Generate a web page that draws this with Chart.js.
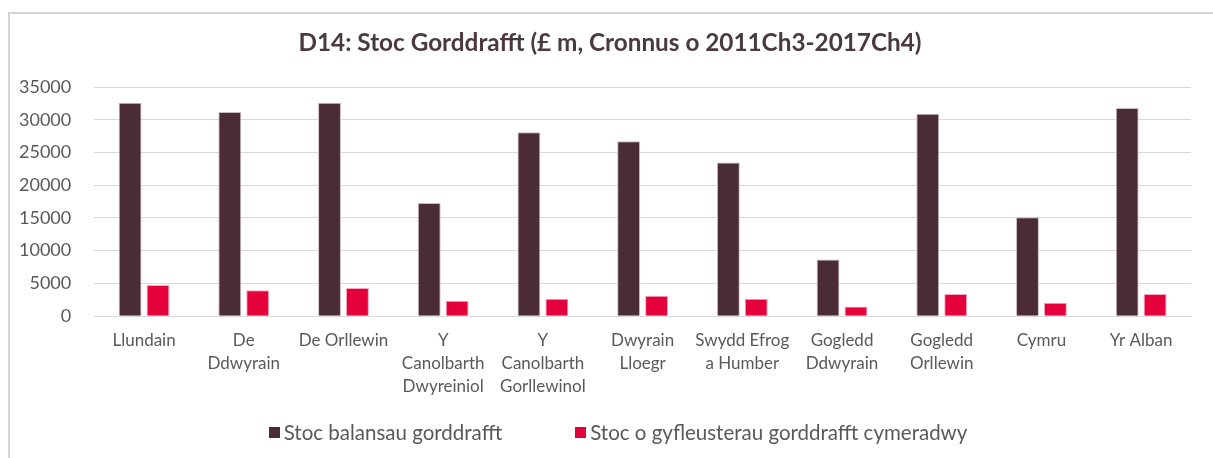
<!DOCTYPE html>
<html>
<head>
<meta charset="utf-8">
<script src="https://cdn.jsdelivr.net/npm/chart.js@4"></script>
<style>
  body { margin: 0; background: #fff; }
  #frame { position: absolute; left: 8px; top: 12px; width: 1300px; height: 600px; border: 2px solid #d4d4d4; }
  #wrap { position: absolute; left: 0; top: 0; width: 1213px; height: 458px; }
  #title { position: absolute; left: 0; width: 1220px; top: 28px; line-height: 28px; text-align: center;
           font-family: Lato, "Open Sans", sans-serif; font-size: 24.3px; font-weight: bold; color: #4a3a40; }
  #legend { position: absolute; left: 0; width: 1236px; top: 420px; display: flex; justify-content: center; gap: 73px;
            font-family: Lato, "Open Sans", sans-serif; font-size: 20.5px; color: #595959; }
  #legend span.item { display: flex; align-items: center; }
  #legend span.box { display: inline-block; width: 11px; height: 11px; margin-right: 4px; }
</style>
</head>
<body>
<div id="frame"></div>
<div id="wrap"><canvas id="chart"></canvas></div>
<div id="title"></div>
<div id="legend"></div>
<script>
const chartTitle = 'D14: Stoc Gorddrafft (£ m, Cronnus o 2011Ch3-2017Ch4)';
const regions = [
    'Llundain',
    ['De', 'Ddwyrain'],
    'De Orllewin',
    ['Y', 'Canolbarth', 'Dwyreiniol'],
    ['Y', 'Canolbarth', 'Gorllewinol'],
    ['Dwyrain', 'Lloegr'],
    ['Swydd Efrog', 'a Humber'],
    ['Gogledd', 'Ddwyrain'],
    ['Gogledd', 'Orllewin'],
    'Cymru',
    'Yr Alban'
];
const overdraftBalances = [32600, 31200, 32600, 17300, 28100, 26700, 23450, 8650, 30900, 15100, 31800];
const approvedFacilities = [4750, 3950, 4300, 2340, 2650, 3100, 2650, 1480, 3400, 2040, 3400];
const yTicks = [0, 5000, 10000, 15000, 20000, 25000, 30000, 35000];

const FONT = 'Lato, "Open Sans", sans-serif';
const GREY = '#595959';

document.getElementById('title').textContent = chartTitle;

let ctx = document.getElementById('chart').getContext('2d');

var chart = new Chart(ctx, {
    type: 'bar',
    data: {
        labels: regions,
        datasets: [{
            label: 'Stoc balansau gorddrafft',
            data: overdraftBalances,
            backgroundColor: '#4a2b36',
            borderColor: '#c9bcc1',
            borderWidth: 1,
            categoryPercentage: 0.56,
            barPercentage: 0.82
        }, {
            label: 'Stoc o gyfleusterau gorddrafft cymeradwy',
            data: approvedFacilities,
            backgroundColor: '#e4003b',
            borderColor: '#f7a6bb',
            borderWidth: 1,
            categoryPercentage: 0.56,
            barPercentage: 0.82
        }]
    },
    options: {
        responsive: true,
        maintainAspectRatio: false,
        animation: false,
        layout: { padding: { left: -4, right: 22, top: 87, bottom: 47 } },
        plugins: {
            title: { display: false },
            legend: { display: false },
            tooltip: { enabled: false }
        },
        scales: {
            x: {
                grid: { display: false, drawTicks: false },
                border: { color: '#d9d9d9', width: 1 },
                ticks: {
                    color: GREY,
                    font: { family: FONT, size: 17, lineHeight: 1.35 },
                    maxRotation: 0,
                    autoSkip: false,
                    padding: 13
                }
            },
            y: {
                min: 0,
                max: 35000,
                afterBuildTicks: function(axis) {
                    axis.ticks = yTicks.map(v => ({ value: v }));
                },
                grid: { color: '#d9d9d9', drawTicks: false },
                border: { display: false },
                ticks: {
                    color: GREY,
                    font: { family: FONT, size: 18 },
                    padding: 23,
                    callback: function(value) { return String(value); }
                }
            }
        }
    }
});

// legend built from the datasets
let legend = document.getElementById('legend');
chart.data.datasets.forEach(function(ds) {
    let item = document.createElement('span');
    item.className = 'item';
    let box = document.createElement('span');
    box.className = 'box';
    box.style.background = ds.backgroundColor;
    item.appendChild(box);
    item.appendChild(document.createTextNode(ds.label));
    legend.appendChild(item);
});
</script>
</body>
</html>
